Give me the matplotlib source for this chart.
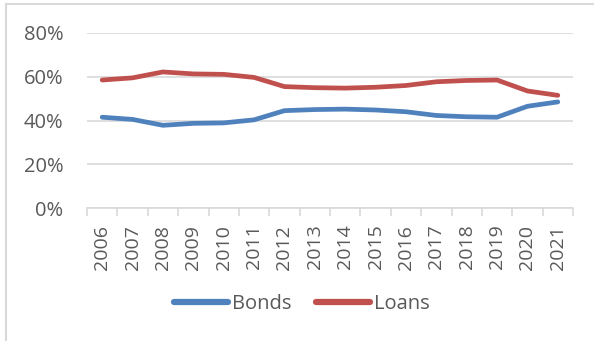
import matplotlib.pyplot as plt
from matplotlib.lines import Line2D
from matplotlib.ticker import FuncFormatter

years = ['2006', '2007', '2008', '2009', '2010', '2011', '2012', '2013',
         '2014', '2015', '2016', '2017', '2018', '2019', '2020', '2021']
bonds = [41.5, 40.5, 37.8, 38.7, 38.9, 40.3, 44.5, 45.0,
         45.2, 44.8, 44.0, 42.3, 41.7, 41.5, 46.5, 48.5]
loans = [58.5, 59.5, 62.2, 61.3, 61.1, 59.7, 55.5, 55.0,
         54.8, 55.2, 56.0, 57.7, 58.3, 58.5, 53.5, 51.5]

plt.rcParams['font.family'] = ['Open Sans', 'DejaVu Sans']
text_col = '#595959'
grid_col = '#d9d9d9'

W, H = 594, 341
fig = plt.figure(figsize=(W / 100, H / 100), dpi=100)
ax = fig.add_axes([87 / W, (H - 208) / H, 486 / W, 175 / H])

x = list(range(len(years)))
ax.plot(x, bonds, color='#4f81bd', linewidth=3.4, solid_capstyle='round',
        solid_joinstyle='round', label='Bonds')
ax.plot(x, loans, color='#c0504d', linewidth=3.4, solid_capstyle='round',
        solid_joinstyle='round', label='Loans')

ax.set_xlim(-0.5, len(years) - 0.5)
ax.set_ylim(0, 80)
ax.set_yticks([0, 20, 40, 60, 80])
ax.yaxis.set_major_formatter(FuncFormatter(lambda v, p: f'{v:.0f}%'))
ax.grid(axis='y', color=grid_col, linewidth=1.2)
ax.set_axisbelow(True)

# category labels at centres, tick marks between categories
ax.set_xticks(x)
ax.set_xticklabels(years, rotation=90)
ax.set_xticks([i - 0.5 for i in range(len(years) + 1)], minor=True)
ax.tick_params(axis='x', which='major', length=0, pad=12,
               labelsize=14, labelcolor=text_col)
ax.tick_params(axis='x', which='minor', length=6, width=1.2, color=grid_col)
ax.tick_params(axis='y', length=0, pad=17, labelsize=14.5, labelcolor=text_col)

for side in ['top', 'right', 'left']:
    ax.spines[side].set_visible(False)
ax.spines['bottom'].set_color(grid_col)
ax.spines['bottom'].set_linewidth(1.2)

leg = fig.legend(loc='center', bbox_to_anchor=(302 / W, 1 - 304 / H), ncol=2,
                 frameon=False, fontsize=14.5, handlelength=2.7,
                 handletextpad=0.2, columnspacing=1.2, labelcolor=text_col)
for h in leg.legend_handles:
    h.set_linewidth(4.5)

# chart frame edges
fig.add_artist(Line2D([5.5 / W, 5.5 / W], [0, 1 - 3.5 / H], color=grid_col,
                      linewidth=1.5, transform=fig.transFigure))
fig.add_artist(Line2D([5.5 / W, 1], [1 - 3.5 / H, 1 - 3.5 / H], color=grid_col,
                      linewidth=1.5, transform=fig.transFigure))

fig.savefig('out.png', dpi=100)
